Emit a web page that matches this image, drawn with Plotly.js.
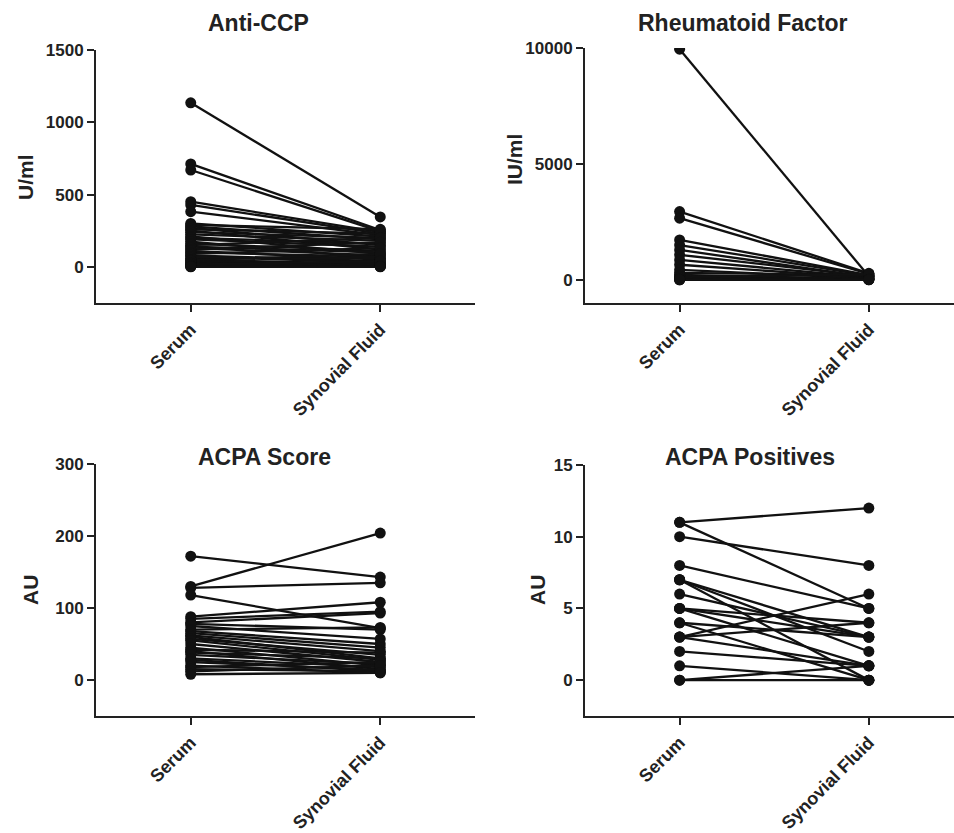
<!DOCTYPE html>
<html>
<head>
<meta charset="utf-8">
<script src="https://cdn.plot.ly/plotly-3.0.1.min.js"></script>
<style>html,body{margin:0;padding:0;background:#fff;}#chart{width:954px;height:833px;}</style>
</head>
<body>
<div id="chart"></div>
<script>
// ---- Data ----
const categories = ['Serum', 'Synovial Fluid'];

// Anti-CCP (U/ml)
const ccpSerum = [1135, 712, 670, 451, 428, 382, 300, 290, 280, 270, 260, 250, 240, 225, 210, 200, 190, 175, 160, 150, 140, 130, 120, 110, 100, 90, 80, 70, 60, 50, 45, 40, 30, 25, 20, 15, 10, 5, 2, 0];
const ccpSF    = [345, 255, 245, 240, 230, 220, 210, 260, 190, 150, 230, 120, 200, 180, 90, 160, 140, 60, 110, 200, 100, 80, 170, 50, 70, 130, 40, 30, 60, 20, 90, 10, 25, 5, 15, 40, 8, 3, 0, 2];
const ccpTicks = [0, 500, 1000, 1500];

// Rheumatoid Factor (IU/ml)
const rfSerum = [9950, 2945, 2660, 1720, 1500, 1290, 1080, 860, 650, 430, 300, 215, 150, 100, 50, 20, 0, 0];
const rfSF    = [150, 280, 250, 200, 180, 120, 150, 100, 80, 60, 200, 40, 30, 250, 20, 10, 5, 0];
const rfTicks = [0, 5000, 10000];

// ACPA Score (AU)
const scoreSerum = [172, 130, 128, 118, 88, 85, 80, 78, 75, 70, 68, 65, 62, 60, 57, 55, 50, 45, 42, 40, 38, 35, 30, 28, 25, 20, 18, 15, 12, 8];
const scoreSF    = [143, 204, 135, 72, 108, 95, 93, 70, 57, 73, 50, 45, 40, 30, 35, 28, 25, 20, 38, 15, 30, 22, 18, 12, 14, 10, 25, 12, 20, 10];
const scoreTicks = [0, 100, 200, 300];

// ACPA Positives (AU)
const posSerum = [11, 11, 10, 8, 7, 7, 6, 5, 5, 5, 4, 4, 3, 3, 3, 2, 1, 0, 0, 7];
const posSF    = [12, 5, 8, 5, 3, 2, 3, 4, 3, 1, 3, 0, 6, 4, 1, 1, 0, 0, 1, 0];
const posTicks = [0, 5, 10, 15];

// ---- Build paired-line traces ----
function paired(s, f, xa, ya) {
  const x = [], y = [];
  for (let i = 0; i < s.length; i++) {
    x.push(0, 1, null);
    y.push(s[i], f[i], null);
  }
  return {
    type: 'scatter', mode: 'lines+markers', x: x, y: y,
    xaxis: xa, yaxis: ya, connectgaps: false,
    line: {color: '#111', width: 2.3},
    marker: {color: '#111', size: 11},
    hoverinfo: 'y', showlegend: false
  };
}

const W = 954, H = 833;
const FONT = '"Liberation Sans", Arial, sans-serif';
function xd(a, b) { return [a / W, Math.min(b / W, 1)]; }
function yd(top, bottom) { return [1 - bottom / H, 1 - top / H]; }

function xaxis(dom, range, anchor) {
  return {
    domain: dom, range: range, anchor: anchor,
    tickmode: 'array', tickvals: [0, 1], ticktext: categories,
    tickangle: -45, ticks: 'outside', ticklen: 7, tickwidth: 2, tickcolor: '#222',
    showline: true, linewidth: 2, linecolor: '#222', showgrid: false, zeroline: false,
    tickfont: {family: FONT, size: 18, color: '#222', weight: 'bold'}
  };
}
function yaxis(dom, range, tickvals, anchor) {
  return {
    domain: dom, range: range, anchor: anchor,
    tickmode: 'array', tickvals: tickvals, ticktext: tickvals.map(String),
    ticks: 'outside', ticklen: 7, tickwidth: 2, tickcolor: '#222',
    showline: true, linewidth: 2, linecolor: '#222', showgrid: false, zeroline: false,
    tickfont: {family: FONT, size: 17, color: '#222', weight: 'bold'}
  };
}

const data = [
  paired(ccpSerum, ccpSF, 'x', 'y'),
  paired(rfSerum, rfSF, 'x2', 'y2'),
  paired(scoreSerum, scoreSF, 'x3', 'y3'),
  paired(posSerum, posSF, 'x4', 'y4')
];

function title(text, x, y) {
  return {text: '<b>' + text + '</b>', x: x / W, y: 1 - y / H, xref: 'paper', yref: 'paper',
    showarrow: false, xanchor: 'center', yanchor: 'middle',
    font: {family: FONT, size: 23, color: '#222'}};
}
function ytitle(text, x, y) {
  return {text: '<b>' + text + '</b>', x: x / W, y: 1 - y / H, xref: 'paper', yref: 'paper',
    showarrow: false, xanchor: 'center', yanchor: 'middle', textangle: -90,
    font: {family: FONT, size: 21, color: '#222'}};
}

const layout = {
  width: W, height: H,
  margin: {l: 0, r: 0, t: 0, b: 0},
  paper_bgcolor: '#fff', plot_bgcolor: '#fff',
  showlegend: false,
  xaxis:  xaxis(xd(96, 475), [-0.5, 1.5], 'y'),
  yaxis:  yaxis(yd(50, 303), [-250, 1500], ccpTicks, 'x'),
  xaxis2: xaxis(xd(585, 954), [-0.5, 1.45], 'y2'),
  yaxis2: yaxis(yd(48, 303), [-1000, 10000], rfTicks, 'x2'),
  xaxis3: xaxis(xd(96, 475), [-0.5, 1.5], 'y3'),
  yaxis3: yaxis(yd(464, 716), [-50, 300], scoreTicks, 'x3'),
  xaxis4: xaxis(xd(585, 954), [-0.5, 1.45], 'y4'),
  yaxis4: yaxis(yd(465, 716), [-2.5, 15], posTicks, 'x4'),
  annotations: [
    title('Anti-CCP', 258, 23),
    title('Rheumatoid Factor', 743, 23),
    title('ACPA Score', 264, 457),
    title('ACPA Positives', 750, 457),
    ytitle('U/ml', 26, 177),
    ytitle('IU/ml', 515, 160),
    ytitle('AU', 30, 590),
    ytitle('AU', 537, 590)
  ]
};

Plotly.newPlot('chart', data, layout, {displayModeBar: false, staticPlot: true});
</script>
</body>
</html>
